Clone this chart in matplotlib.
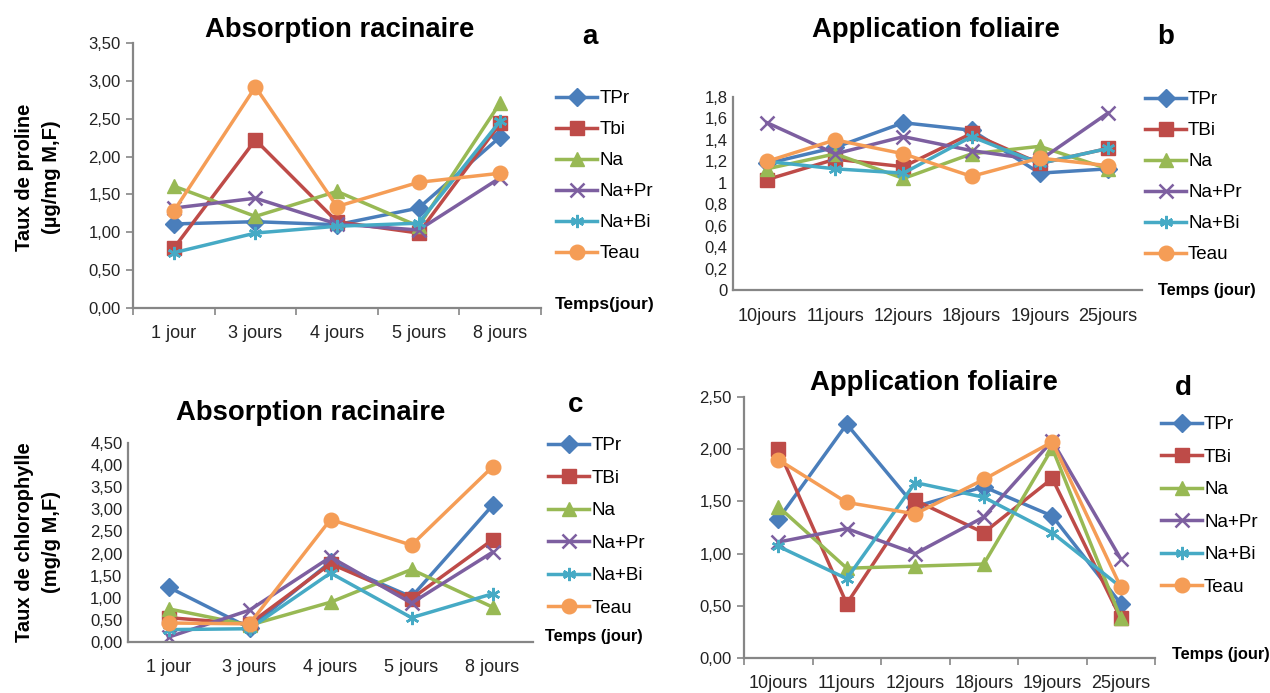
import matplotlib
matplotlib.use("Agg")
import matplotlib.pyplot as plt
from matplotlib.ticker import FuncFormatter, FixedLocator

W, H = 1270, 693

series = ["TPr", "TBi", "Na", "Na+Pr", "Na+Bi", "Teau"]
series_a = ["TPr", "Tbi", "Na", "Na+Pr", "Na+Bi", "Teau"]
colors = ["#4A7EBB", "#BE4B48", "#98B954", "#7D5FA0", "#46AAC5", "#F59D56"]
markers = ["D", "s", "^", "x", (6, 2, 0), "o"]

days_root = ["1 jour", "3 jours", "4 jours", "5 jours", "8 jours"]
days_leaf = ["10jours", "11jours", "12jours", "18jours", "19jours", "25jours"]

# Panel a : proline, absorption racinaire
a_TPr = [1.11, 1.14, 1.10, 1.32, 2.26]
a_TBi = [0.79, 2.22, 1.14, 0.99, 2.44]
a_Na = [1.61, 1.21, 1.54, 1.08, 2.71]
a_NaPr = [1.32, 1.45, 1.11, 1.03, 1.72]
a_NaBi = [0.73, 0.99, 1.08, 1.12, 2.47]
a_Teau = [1.28, 2.92, 1.34, 1.66, 1.78]

# Panel b : proline, application foliaire
b_TPr = [1.18, 1.33, 1.56, 1.49, 1.09, 1.13]
b_TBi = [1.03, 1.22, 1.15, 1.46, 1.18, 1.32]
b_Na = [1.13, 1.27, 1.04, 1.27, 1.34, 1.13]
b_NaPr = [1.56, 1.27, 1.43, 1.30, 1.21, 1.65]
b_NaBi = [1.20, 1.13, 1.09, 1.43, 1.18, 1.32]
b_Teau = [1.20, 1.40, 1.27, 1.06, 1.23, 1.16]

# Panel c : chlorophylle, absorption racinaire
c_TPr = [1.24, 0.32, 1.81, 1.02, 3.09]
c_TBi = [0.55, 0.41, 1.77, 0.98, 2.31]
c_Na = [0.75, 0.38, 0.90, 1.64, 0.79]
c_NaPr = [0.11, 0.72, 1.92, 0.88, 2.03]
c_NaBi = [0.28, 0.30, 1.56, 0.55, 1.09]
c_Teau = [0.43, 0.41, 2.77, 2.19, 3.96]

# Panel d : chlorophylle, application foliaire
d_TPr = [1.33, 2.24, 1.45, 1.64, 1.36, 0.52]
d_TBi = [2.00, 0.52, 1.51, 1.20, 1.72, 0.38]
d_Na = [1.45, 0.86, 0.88, 0.90, 2.01, 0.38]
d_NaPr = [1.11, 1.24, 1.00, 1.35, 2.08, 0.95]
d_NaBi = [1.07, 0.76, 1.68, 1.54, 1.20, 0.68]
d_Teau = [1.90, 1.49, 1.38, 1.71, 2.07, 0.68]

FAM = ["Liberation Sans", "DejaVu Sans"]
plt.rcParams["font.family"] = FAM

AXC = "#868686"

fig = plt.figure(figsize=(W / 100, H / 100), dpi=100)


def rect(x0, y0, x1, y1):
    return [x0 / W, 1 - y1 / H, (x1 - x0) / W, (y1 - y0) / H]


def fmt2(v, p):
    return f"{v:.2f}".replace(".", ",")


def fmtg(v, p):
    return f"{v:.1f}".rstrip("0").rstrip(".").replace(".", ",")


def panel(box, cats, data, labels, ymax, ystep, formatter, ticks_x, ticks_y,
          legend_xy, legend_sp, xpad):
    ax = fig.add_axes(rect(*box))
    n = len(cats)
    x = list(range(n))
    for vals, lab, c, m in zip(data, labels, colors, markers):
        ms = 9.5
        if m == "o":
            ms = 10.5
        if m == "^":
            ms = 10
        ax.plot(x, vals, color=c, lw=2.5, marker=m, ms=ms, mfc=c, mec=c,
                mew=1.8 if m in ("x", (6, 2, 0)) else 1.0, label=lab)
    ax.set_xlim(-0.5, n - 0.5)
    ax.set_ylim(0, ymax)
    k = int(round(ymax / ystep))
    ax.set_yticks([i * ystep for i in range(k + 1)])
    ax.yaxis.set_major_formatter(FuncFormatter(formatter))
    ax.set_xticks(x)
    ax.set_xticklabels(cats)
    ax.xaxis.set_minor_locator(FixedLocator([i - 0.5 for i in range(n + 1)]))
    ax.tick_params(axis="x", which="major", length=0, pad=xpad, labelsize=13,
                   labelcolor="#222222")
    ax.tick_params(axis="x", which="minor", length=5 if ticks_x else 0,
                   width=1.2, color=AXC)
    ax.tick_params(axis="y", length=5 if ticks_y else 0, width=1.2, color=AXC,
                   labelsize=12, labelcolor="#222222", pad=4)
    for s in ("top", "right"):
        ax.spines[s].set_visible(False)
    for s in ("left", "bottom"):
        ax.spines[s].set_color(AXC)
        ax.spines[s].set_linewidth(1.6)
    ax.set_facecolor("none")
    lx, ly = legend_xy
    ax.legend(loc="upper left", bbox_to_anchor=(lx / W, 1 - ly / H),
              bbox_transform=fig.transFigure, frameon=False,
              fontsize=13.5, handlelength=2.2, handletextpad=0.1,
              labelspacing=legend_sp, borderpad=0, borderaxespad=0)
    return ax


panel((133, 43, 541, 308), days_root,
      [a_TPr, a_TBi, a_Na, a_NaPr, a_NaBi, a_Teau], series_a,
      3.5, 0.5, fmt2, True, True, (556, 90), 0.74, 12)
panel((733, 97, 1142, 290), days_leaf,
      [b_TPr, b_TBi, b_Na, b_NaPr, b_NaBi, b_Teau], series,
      1.8, 0.2, fmtg, False, False, (1145, 91), 0.74, 13)
panel((128, 443, 533, 642), days_root,
      [c_TPr, c_TBi, c_Na, c_NaPr, c_NaBi, c_Teau], series,
      4.5, 0.5, fmt2, False, False, (548, 437), 0.82, 12)
panel((744, 397, 1155, 658), days_leaf,
      [d_TPr, d_TBi, d_Na, d_NaPr, d_NaBi, d_Teau], series,
      2.5, 0.5, fmt2, True, True, (1161, 416), 0.82, 12)


def ftext(x, y, s, **kw):
    fig.text(x / W, 1 - y / H, s, **kw)


TB = dict(fontweight="bold", color="black")
ftext(340, 30, "Absorption racinaire", ha="center", va="center", fontsize=19.8, **TB)
ftext(590, 37, "a", ha="center", va="center", fontsize=20, **TB)
ftext(936, 30, "Application foliaire", ha="center", va="center", fontsize=19.8, **TB)
ftext(1166, 37, "b", ha="center", va="center", fontsize=20, **TB)
ftext(311, 413, "Absorption racinaire", ha="center", va="center", fontsize=19.8, **TB)
ftext(576, 405, "c", ha="center", va="center", fontsize=20, **TB)
ftext(934, 383, "Application foliaire", ha="center", va="center", fontsize=19.8, **TB)
ftext(1183, 388, "d", ha="center", va="center", fontsize=20, **TB)

ftext(555, 305, "Temps(jour)", ha="left", va="center", fontsize=12.5, **TB)
ftext(1158, 290, "Temps (jour)", ha="left", va="center", fontsize=11.8, **TB)
ftext(545, 637, "Temps (jour)", ha="left", va="center", fontsize=11.8, **TB)
ftext(1172, 655, "Temps (jour)", ha="left", va="center", fontsize=11.8, **TB)

ftext(38, 177, "Taux de proline\n(µg/mg M,F)", ha="center", va="center",
      rotation=90, fontsize=14.5, linespacing=1.5, **TB)
ftext(38, 542, "Taux de chlorophylle\n(mg/g M,F)", ha="center", va="center",
      rotation=90, fontsize=14.5, linespacing=1.5, **TB)

fig.savefig("out.png", dpi=100)
